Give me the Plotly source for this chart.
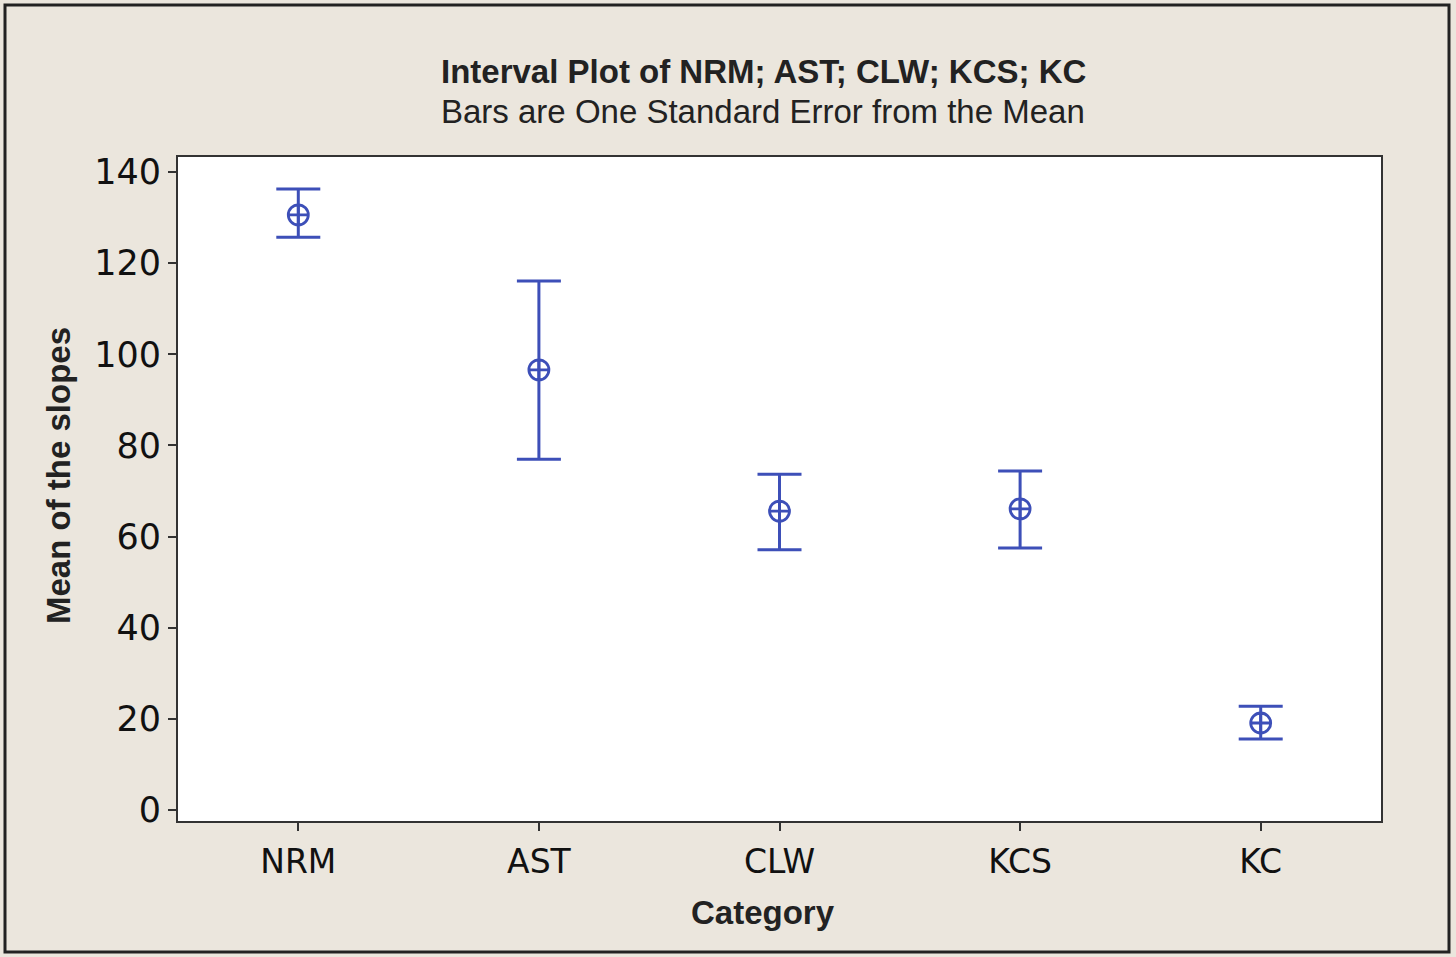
import plotly.graph_objects as go

categories = ["NRM", "AST", "CLW", "KCS", "KC"]
means = [130.6, 96.6, 65.6, 66.1, 19.1]
upper = [136.3, 116.1, 73.7, 74.4, 22.8]
lower = [125.7, 77.0, 57.1, 57.5, 15.6]
y_ticks = [0, 20, 40, 60, 80, 100, 120, 140]

err_plus = [u - m for u, m in zip(upper, means)]
err_minus = [m - l for m, l in zip(means, lower)]

BLUE = "#3d4fb8"
BG = "#ebe6dd"

fig = go.Figure()
fig.add_trace(go.Scatter(
    x=categories, y=means, mode="markers",
    marker=dict(symbol="circle-cross-open", size=20, color=BLUE, line=dict(width=2.8, color=BLUE)),
    error_y=dict(type="data", symmetric=False, array=err_plus, arrayminus=err_minus,
                 color=BLUE, thickness=3, width=22),
    showlegend=False,
))

W, H = 1456, 957
L, R, T, B = 178, 75, 157, 136
pw, ph = W - L - R, H - T - B

def px_x(p):
    return (p - L) / pw

def px_y(p):
    return (H - B - p) / ph

fig.update_layout(
    width=W, height=H,
    margin=dict(l=L, r=R, t=T, b=B),
    paper_bgcolor=BG, plot_bgcolor="white",
    font=dict(family="DejaVu Sans", color="#111"),
    xaxis=dict(range=[-0.5, 4.5], showgrid=False, zeroline=False,
               showline=True, linecolor="#333", linewidth=2, mirror=True,
               ticks="outside", ticklen=8, tickwidth=2, tickcolor="#333",
               tickfont=dict(family="DejaVu Sans", size=33, color="#111"),
               ticklabelstandoff=2),
    yaxis=dict(range=[-2.4, 143.3], tickvals=y_ticks, showgrid=False, zeroline=False,
               showline=True, linecolor="#333", linewidth=2, mirror=True,
               ticks="outside", ticklen=8, tickwidth=2, tickcolor="#333",
               tickfont=dict(family="DejaVu Sans", size=35, color="#111"),
               ticklabelstandoff=0),
    shapes=[dict(type="rect", xref="paper", yref="paper",
                 x0=px_x(5), x1=px_x(1449), y0=px_y(952), y1=px_y(5),
                 line=dict(color="#222", width=3), fillcolor="rgba(0,0,0,0)", layer="below")],
    annotations=[
        dict(text="<b>Interval Plot of NRM; AST; CLW; KCS; KC</b>", xref="paper", yref="paper",
             x=px_x(763), y=px_y(72), showarrow=False, xanchor="center", yanchor="middle",
             font=dict(family="Liberation Sans", size=33, color="#222")),
        dict(text="Bars are One Standard Error from the Mean", xref="paper", yref="paper",
             x=px_x(763), y=px_y(111), showarrow=False, xanchor="center", yanchor="middle",
             font=dict(family="Liberation Sans", size=33, color="#222")),
        dict(text="<b>Category</b>", xref="paper", yref="paper",
             x=px_x(763), y=px_y(912), showarrow=False, xanchor="center", yanchor="middle",
             font=dict(family="Liberation Sans", size=33, color="#222")),
        dict(text="<b>Mean of the slopes</b>", xref="paper", yref="paper", textangle=-90,
             x=px_x(58), y=px_y(476), showarrow=False, xanchor="center", yanchor="middle",
             font=dict(family="Liberation Sans", size=33, color="#222")),
    ],
)

fig.write_html("out.html", config={"displayModeBar": False},
               post_script="document.body.style.margin='0';")
